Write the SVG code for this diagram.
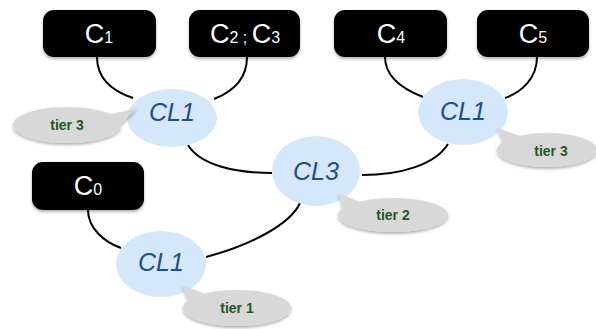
<svg xmlns="http://www.w3.org/2000/svg" width="596" height="329" viewBox="0 0 596 329">
<defs>
<filter id="sh" x="-20%" y="-30%" width="140%" height="170%">
<feDropShadow dx="0" dy="2" stdDeviation="1.5" flood-color="#000" flood-opacity="0.3"/>
</filter>
</defs>
<style>
.box{fill:#000;filter:url(#sh)}
.bt{fill:#fff;font-family:"Liberation Sans",Arial,sans-serif;font-size:27px;text-anchor:middle}
.sub{font-size:16px}
.cl{fill:#d5e7fa}
.ct{fill:#1f4f8a;font-family:"Liberation Sans",Arial,sans-serif;font-size:25px;font-style:italic;text-anchor:middle}
.call{filter:url(#sh)}
.call ellipse,.call polygon{fill:#d8d8d8}
.tt{fill:#1e5a1e;font-family:"Liberation Sans",Arial,sans-serif;font-size:14px;font-weight:bold;text-anchor:middle}
.conn path{fill:none;stroke:#000;stroke-width:2}
</style>
<g id="connectors" class="conn">
<path d="M97,57 C97,80 115,92 133,98"/>
<path d="M247,57 C247,80 232,92 214,99"/>
<path d="M188,145 C200,165 235,173 272,173"/>
<path d="M385,57 C385,78 405,90 423,97"/>
<path d="M537,57 C537,78 522,92 505,98"/>
<path d="M448,144 C435,165 400,175 362,175"/>
<path d="M88,210 C88,228 104,242 121,248"/>
<path d="M206,257 C250,245 290,225 300,203"/>
</g>
<g id="C1"><rect class="box" x="43" y="10" width="113" height="47" rx="11"/><text class="bt" x="99" y="43">C<tspan class="sub">1</tspan></text></g>
<g id="C2C3"><rect class="box" x="189" y="10" width="111" height="47" rx="11"/><text class="bt" x="245" y="43">C<tspan class="sub">2 ; </tspan>C<tspan class="sub">3</tspan></text></g>
<g id="C4"><rect class="box" x="334" y="10" width="113" height="47" rx="11"/><text class="bt" x="391" y="43">C<tspan class="sub">4</tspan></text></g>
<g id="C5"><rect class="box" x="477" y="10" width="112" height="47" rx="11"/><text class="bt" x="533" y="43">C<tspan class="sub">5</tspan></text></g>
<g id="C0"><rect class="box" x="32" y="162" width="112" height="48" rx="11"/><text class="bt" x="88" y="195">C<tspan class="sub">0</tspan></text></g>
<g id="CL1a"><ellipse class="cl" cx="172" cy="118" rx="45" ry="29"/><text class="ct" x="172" y="121">CL1</text></g>
<g id="CL1b"><ellipse class="cl" cx="463" cy="112" rx="45" ry="33"/><text class="ct" x="463" y="120">CL1</text></g>
<g id="CL3"><ellipse class="cl" cx="316" cy="171" rx="44" ry="35"/><text class="ct" x="316" y="180">CL3</text></g>
<g id="CL1c"><ellipse class="cl" cx="161" cy="264" rx="45" ry="33"/><text class="ct" x="161" y="271">CL1</text></g>
<g id="tier3a"><g class="call"><ellipse cx="67" cy="125" rx="54" ry="18"/><polygon points="137,108 108,115 118,127"/></g><text class="tt" x="67" y="130">tier 3</text></g>
<g id="tier3b"><g class="call"><ellipse cx="547" cy="150" rx="50" ry="17"/><polygon points="497,128 505,145 520,136"/></g><text class="tt" x="551" y="156">tier 3</text></g>
<g id="tier2"><g class="call"><ellipse cx="393" cy="215" rx="55" ry="17"/><polygon points="338,193 344,211 360,202"/></g><text class="tt" x="393" y="220">tier 2</text></g>
<g id="tier1"><g class="call"><ellipse cx="237" cy="308" rx="54" ry="18"/><polygon points="182,285 189,303 205,294"/></g><text class="tt" x="237" y="313">tier 1</text></g>
</svg>
